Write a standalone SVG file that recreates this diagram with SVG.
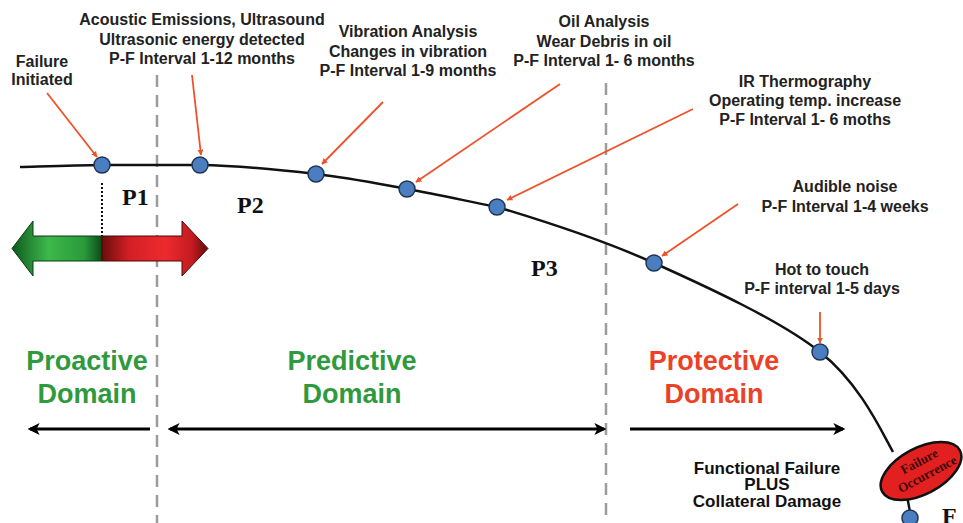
<svg xmlns="http://www.w3.org/2000/svg" width="963" height="523" viewBox="0 0 963 523">
<style>
.lbl{font-family:"Liberation Sans",Arial,sans-serif;font-weight:bold;font-size:16px;fill:#222;text-anchor:middle}
.dom{font-family:"Liberation Sans",Arial,sans-serif;font-weight:bold;font-size:27px;text-anchor:middle}
.green{fill:#2f9a3d}
.red{fill:#ec4127}
.pt{font-family:"Liberation Serif","Times New Roman",serif;font-weight:bold;font-size:24px;fill:#111}
.node{fill:#4a7ec0;stroke:#1f3552;stroke-width:1.5}
.ptr{stroke:#f0512a;stroke-width:1.8;fill:none;marker-end:url(#rh)}
.dash{stroke:#9c9c9c;stroke-width:2.5;stroke-dasharray:12 8;fill:none}
.darr{stroke:#000;stroke-width:3;fill:none}
.ff{font-family:"Liberation Sans",Arial,sans-serif;font-weight:bold;font-size:17px;fill:#111;text-anchor:middle}
</style>
<defs>
<marker id="rh" viewBox="0 0 10 10" refX="9" refY="5" markerWidth="6" markerHeight="6" orient="auto" markerUnits="userSpaceOnUse">
<path d="M0,0 L10,5 L0,10 Z" fill="#f0512a"/>
</marker>
<marker id="bh" viewBox="0 0 10 10" refX="8" refY="5" markerWidth="4" markerHeight="4" orient="auto-start-reverse">
<path d="M0,0 L10,5 L0,10 L2.5,5 Z" fill="#000"/>
</marker>
<linearGradient id="gg" gradientUnits="userSpaceOnUse" x1="12" y1="0" x2="102" y2="0">
<stop offset="0" stop-color="#0d5a1e"/>
<stop offset="0.4" stop-color="#3db84b"/>
<stop offset="0.8" stop-color="#2a9b3a"/>
<stop offset="1" stop-color="#0c4a18"/>
</linearGradient>
<linearGradient id="rg" gradientUnits="userSpaceOnUse" x1="102" y1="0" x2="208" y2="0">
<stop offset="0" stop-color="#6a0d0d"/>
<stop offset="0.25" stop-color="#d21f25"/>
<stop offset="0.6" stop-color="#ee2a2e"/>
<stop offset="0.85" stop-color="#c21b20"/>
<stop offset="1" stop-color="#650b0b"/>
</linearGradient>
</defs>
<rect width="963" height="523" fill="#fff"/>

<!-- domain separators -->
<line class="dash" x1="157" y1="75" x2="157" y2="523"/>
<line class="dash" x1="606" y1="83" x2="606" y2="523"/>

<g id="connectors">
<path id="pf-curve" d="M20,167 C33.7,166.7 72,165.3 102,165 C132,164.7 170,165 200,165 C235.7,165.6 281.5,170 316,174 C350.5,178 376.8,183.5 407,189 C437.2,194.5 462,200 497,207 C538.2,219.3 600.2,238.8 654,263 C707.8,287.2 780.2,320.5 820,352 C859.8,383.5 880.8,430 893,452" fill="none" stroke="#111" stroke-width="2.5"/>
<line x1="907" y1="496" x2="910" y2="512" stroke="#111" stroke-width="2.5"/>
<line class="ptr" x1="47" y1="93" x2="97" y2="157"/>
<line class="ptr" x1="192" y1="75" x2="201" y2="155"/>
<line class="ptr" x1="383" y1="102" x2="322" y2="164"/>
<line class="ptr" x1="560" y1="84" x2="416" y2="182"/>
<line class="ptr" x1="693" y1="109" x2="507" y2="200"/>
<line class="ptr" x1="738" y1="204" x2="662" y2="256"/>
<line class="ptr" x1="820" y1="312" x2="820" y2="343"/>
<line x1="102" y1="183" x2="102" y2="236" stroke="#111" stroke-width="2" stroke-dasharray="2 2"/>
<line class="darr" x1="150" y1="429" x2="30" y2="429" marker-end="url(#bh)"/>
<line class="darr" x1="170" y1="429" x2="604" y2="429" marker-start="url(#bh)" marker-end="url(#bh)"/>
<line class="darr" x1="630" y1="429" x2="843" y2="429" marker-end="url(#bh)"/>
</g>

<g id="node-failure-initiated">
<circle class="node" cx="102" cy="165" r="8"/>
<text class="lbl" x="42" y="67">Failure</text>
<text class="lbl" x="42" y="85">Initiated</text>
</g>
<g id="node-acoustic">
<circle class="node" cx="200" cy="165" r="8"/>
<text class="lbl" x="202" y="25">Acoustic Emissions, Ultrasound</text>
<text class="lbl" x="202" y="45">Ultrasonic energy detected</text>
<text class="lbl" x="202" y="64">P-F Interval 1-12 months</text>
</g>
<g id="node-vibration">
<circle class="node" cx="316" cy="174" r="8"/>
<text class="lbl" x="408" y="37">Vibration Analysis</text>
<text class="lbl" x="408" y="57">Changes in vibration</text>
<text class="lbl" x="408" y="76">P-F Interval 1-9 months</text>
</g>
<g id="node-oil">
<circle class="node" cx="407" cy="189" r="8"/>
<text class="lbl" x="604" y="27">Oil Analysis</text>
<text class="lbl" x="604" y="47">Wear Debris in oil</text>
<text class="lbl" x="604" y="66">P-F Interval 1- 6 months</text>
</g>
<g id="node-ir">
<circle class="node" cx="497" cy="207" r="8"/>
<text class="lbl" x="805" y="87">IR Thermography</text>
<text class="lbl" x="805" y="106">Operating temp. increase</text>
<text class="lbl" x="805" y="125">P-F Interval 1- 6 moths</text>
</g>
<g id="node-audible">
<circle class="node" cx="654" cy="263" r="8"/>
<text class="lbl" x="845" y="192">Audible noise</text>
<text class="lbl" x="845" y="212">P-F Interval 1-4 weeks</text>
</g>
<g id="node-hot">
<circle class="node" cx="820" cy="352" r="8"/>
<text class="lbl" x="822" y="275">Hot to touch</text>
<text class="lbl" x="822" y="294">P-F interval 1-5 days</text>
</g>
<g id="node-failure-occurrence">
<g transform="translate(921,471) rotate(-28)">
<ellipse cx="0" cy="0" rx="44" ry="23" fill="#e32020" stroke="#111" stroke-width="2.5"/>
<text x="3" y="-5" text-anchor="middle" font-family="'Liberation Serif','Times New Roman',serif" font-weight="bold" font-size="13" fill="#3a0808">Failure</text>
<text x="4" y="10" text-anchor="middle" font-family="'Liberation Serif','Times New Roman',serif" font-weight="bold" font-size="13" fill="#3a0808">Occurrence</text>
</g>
</g>
<g id="node-f">
<circle class="node" cx="910" cy="518" r="8"/>
<text class="pt" x="942" y="524">F</text>
</g>

<g id="pi-arrow">
<polygon points="102,236 33,236 33,221 12,248.5 33,276 33,261 102,261" fill="url(#gg)" stroke="#0a3a12" stroke-width="1"/>
<polygon points="102,236 182,236 182,221 208,248.5 182,276 182,261 102,261" fill="url(#rg)" stroke="#4a0808" stroke-width="1"/>
</g>

<text class="pt" x="122" y="205">P1</text>
<text class="pt" x="237" y="213">P2</text>
<text class="pt" x="531" y="276">P3</text>

<g id="proactive">
<text class="dom green" x="87" y="370">Proactive</text>
<text class="dom green" x="87" y="403">Domain</text>
</g>
<g id="predictive">
<text class="dom green" x="352" y="370">Predictive</text>
<text class="dom green" x="352" y="403">Domain</text>
</g>
<g id="protective">
<text class="dom red" x="714" y="370">Protective</text>
<text class="dom red" x="714" y="403">Domain</text>
</g>

<g id="functional-failure">
<text class="ff" x="767" y="474">Functional Failure</text>
<text class="ff" x="767" y="490">PLUS</text>
<text class="ff" x="767" y="507">Collateral Damage</text>
</g>
</svg>
